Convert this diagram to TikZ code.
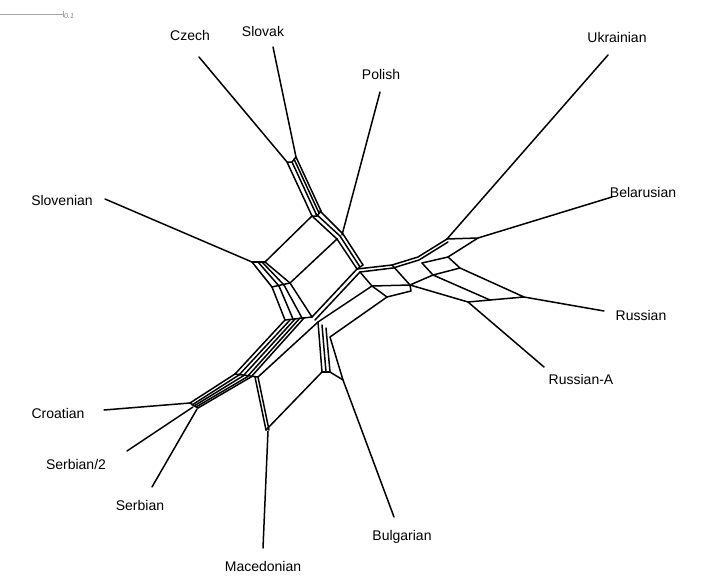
\documentclass[tikz,border=0pt]{standalone}
\usepackage{fontspec}
\setmainfont{Liberation Sans}
\begin{document}
\begin{tikzpicture}[x=1pt,y=-1pt,
  net/.style={line width=1.5pt, line join=round, line cap=round},
  lab/.style={font=\fontsize{14}{16}\selectfont, inner sep=0pt}]
\useasboundingbox (0,0) rectangle (703,578);
% scale bar
\draw[gray!70, line width=0.8pt] (0,14) -- (63,14);
\draw[gray!70, line width=0.8pt] (63,11) -- (63,17);
\node[font=\fontsize{7}{8}\selectfont\itshape, text=gray, anchor=west, inner sep=0pt] (sb) at (64,16) {0.1};
% labels
\node[lab] (czech) at (190,35) {Czech};
\node[lab] (slovak) at (263,31) {Slovak};
\node[lab] (polish) at (381,74) {Polish};
\node[lab] (ukr) at (617,37) {Ukrainian};
\node[lab] (bel) at (643,192) {Belarusian};
\node[lab] (rus) at (641,315) {Russian};
\node[lab] (rusa) at (581,379) {Russian-A};
\node[lab] (slo) at (62,200) {Slovenian};
\node[lab] (cro) at (58,413) {Croatian};
\node[lab] (ser2) at (76,464) {Serbian/2};
\node[lab] (ser) at (140,505) {Serbian};
\node[lab] (mac) at (263,566) {Macedonian};
\node[lab] (bul) at (402,537) {Bulgarian};
% pendant edges
\draw[net] (199,57) -- (287,162);
\draw[net] (273,47) -- (296,157);
\draw[net] (380,92) -- (342,235);
\draw[net] (608,55) -- (447,239);
\draw[net] (612,197) -- (478,238);
\draw[net] (604,311) -- (524,297);
\draw[net] (544,367) -- (468,302);
\draw[net] (105,199) -- (252,262);
\draw[net] (104,410) -- (190,403);
\draw[net] (127,451) -- (193,407);
\draw[net] (152,487) -- (197,409);
\draw[net] (263,548) -- (268,431);
\draw[net] (394,517) -- (346,388);
% Czech/Slovak band
\draw[net] (287,162) -- (292,162) -- (296,157);
\draw[net] (287,162) -- (312,216);
\draw[net] (292,162) -- (317,216);
\draw[net] (294,159) -- (319,213);
\draw[net] (296,157) -- (321,211);
\draw[net] (312,216) -- (317,216) -- (321,211);
\draw[net] (312,216) -- (337,239);
\draw[net] (316,214) -- (340,236);
\draw[net] (320,211) -- (343,234);
\draw[net] (337,239) -- (357,269);
\draw[net] (340,236) -- (360,267);
\draw[net] (343,234) -- (363,265);
% Slovenian parallelogram
\draw[net] (265,262) -- (312,216);
\draw[net] (290,283) -- (337,239);
\draw[net] (252,262) -- (265,262);
\draw[net] (252,262) -- (272,287);
\draw[net] (258,262) -- (279,286);
\draw[net] (262,262) -- (284,285);
\draw[net] (265,262) -- (290,283);
\draw[net] (272,287) -- (290,283);
\draw[net] (272,287) -- (285,320);
\draw[net] (279,286) -- (293,319);
\draw[net] (284,285) -- (302,318);
\draw[net] (290,283) -- (312,317);
\draw[net] (285,320) -- (312,317);
% east band from centre
\draw[net] (312,317) -- (357,269);
\draw[net] (315,320) -- (360,272);
\draw[net] (318,322) -- (372,286);
\draw[net] (330,337) -- (387,297);
\draw[net] (357,269) -- (363,265);
\draw[net] (360,272) -- (372,286) -- (387,297);
% East Slavic
\draw[net] (357,269) -- (392,265) -- (418,257) -- (447,239);
\draw[net] (360,272) -- (393,268) -- (419,260) -- (448,242);
\draw[net] (447,239) -- (478,238) -- (448,257) -- (422,263);
\draw[net] (448,257) -- (460,268) -- (524,297) -- (490,300) -- (433,275) -- (460,268);
\draw[net] (422,263) -- (433,275);
\draw[net] (433,275) -- (410,285) -- (468,302) -- (490,300);
\draw[net] (392,265) -- (410,285);
\draw[net] (372,286) -- (410,285);
\draw[net] (387,297) -- (411,291) -- (410,285);
% lower-left band
\draw[net] (285,320) -- (235,374);
\draw[net] (290,320) -- (239,375);
\draw[net] (295,319) -- (243,376);
\draw[net] (300,318) -- (247,377);
\draw[net] (304,318) -- (251,377);
\draw[net] (318,322) -- (258,377);
\draw[net] (235,374) -- (258,377);
\draw[net] (235,374) -- (190,403);
\draw[net] (239,375) -- (192,405);
\draw[net] (243,376) -- (194,406);
\draw[net] (247,377) -- (196,407);
\draw[net] (251,377) -- (198,408);
\draw[net] (190,403) -- (198,408);
% Macedonian
\draw[net] (255,377) -- (266,430);
\draw[net] (258,377) -- (269,430);
\draw[net] (266,430) -- (322,372);
% Bulgarian
\draw[net] (318,322) -- (322,372);
\draw[net] (322,325) -- (326,372);
\draw[net] (326,328) -- (330,372);
\draw[net] (322,372) -- (330,372);
\draw[net] (330,372) -- (343,380) -- (346,388);
\draw[net] (330,337) -- (343,380);
\end{tikzpicture}
\end{document}
